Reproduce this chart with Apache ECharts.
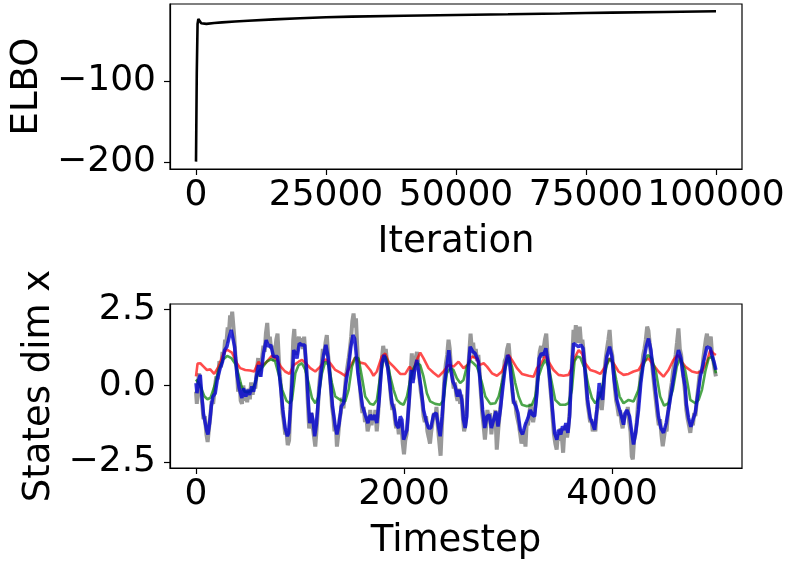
<!DOCTYPE html>
<html>
<head>
<meta charset="utf-8">
<script src="https://cdn.jsdelivr.net/npm/echarts@6/dist/echarts.min.js"></script>
<style>
html,body{margin:0;padding:0;background:#fff;}
#chart{width:788px;height:563px;}
</style>
</head>
<body>
<div id="chart"></div>
<script>
// ---------- DATA ----------
const elboTicks = [0, 25000, 50000, 75000, 100000];
const elboYTicks = [-200, -100];
const stepTicks = [0, 2000, 4000];
const stateYTicks = [-2.5, 0, 2.5];

const elbo = [[0,-199.5],[150,-90],[300,-30],[450,-23.8],[700,-24.5],[1000,-29],[1300,-30.4],[2000,-29.8],[3500,-28.7],[5000,-27.9],[7500,-26.9],[10000,-25.9],[15000,-24.3],[20000,-22.9],[25000,-21.7],[30000,-20.8],[40000,-19.7],[50000,-18.9],[60000,-18.0],[70000,-17.0],[75000,-16.4],[80000,-15.9],[90000,-15.1],[100000,-14.3]];

const grayStates = [[0,-0.2],[8,-0.6],[18,0.1],[30,0.4],[45,-0.2],[60,-0.6],[72,-1.1],[85,-1.0],[100,-1.6],[112,-1.85],[125,-1.4],[138,-1.0],[150,-0.5],[165,-0.6],[180,-0.1],[195,0.3],[210,0.2],[225,0.8],[240,0.6],[255,1.1],[268,1.0],[280,1.5],[292,1.4],[305,1.9],[318,1.8],[328,2.3],[338,2.1],[348,2.42],[358,2.0],[368,1.6],[380,0.9],[393,0.5],[405,-0.2],[418,0.1],[430,-0.5],[442,-0.6],[455,0.0],[468,-0.5],[480,-0.2],[492,-0.55],[505,-0.1],[518,-0.45],[530,0.1],[545,-0.3],[558,0.0],[570,-0.1],[585,0.5],[598,0.9],[610,0.3],[622,0.5],[635,0.9],[648,1.3],[660,1.1],[672,1.7],[685,2.05],[697,1.4],[710,1.6],[722,1.2],[735,1.3],[748,0.8],[760,1.1],[772,1.5],[784,1.7],[796,0.9],[808,0.3],[820,-0.2],[832,-0.9],[845,-1.2],[858,-1.6],[870,-1.5],[882,-1.95],[895,-1.8],[905,-1.0],[915,-0.3],[925,0.5],[935,1.5],[945,1.85],[955,1.2],[965,1.0],[978,1.4],[990,1.6],[1003,1.3],[1015,1.55],[1028,1.2],[1040,1.6],[1052,1.0],[1064,0.3],[1076,-0.6],[1088,-1.4],[1100,-1.2],[1112,-0.9],[1124,-1.4],[1136,-1.7],[1147,-2.0],[1158,-1.5],[1170,-0.9],[1182,-0.1],[1195,0.4],[1208,0.7],[1220,1.2],[1232,1.0],[1245,1.4],[1258,1.65],[1270,1.0],[1282,0.6],[1295,0.0],[1308,-0.7],[1320,-1.0],[1332,-1.5],[1345,-1.3],[1355,-2.0],[1368,-1.6],[1380,-1.1],[1392,-0.9],[1405,-0.4],[1418,-0.75],[1430,-0.2],[1442,0.3],[1455,0.6],[1468,0.9],[1480,1.2],[1492,1.6],[1503,2.1],[1515,2.36],[1527,1.9],[1538,2.2],[1550,1.3],[1562,0.5],[1575,0.0],[1588,-0.5],[1600,-0.9],[1612,-0.7],[1625,-1.2],[1638,-1.0],[1650,-1.5],[1662,-1.3],[1675,-0.8],[1688,-1.3],[1700,-1.0],[1712,-1.2],[1725,-0.8],[1738,-1.5],[1750,-1.0],[1762,-0.3],[1775,0.4],[1788,0.9],[1800,1.3],[1812,1.0],[1825,1.2],[1838,0.7],[1850,0.5],[1862,0.1],[1875,-0.4],[1888,-0.8],[1900,-0.6],[1912,-1.1],[1925,-1.4],[1938,-1.2],[1950,-1.6],[1962,-1.1],[1975,-1.3],[1988,-1.9],[2000,-2.25],[2012,-1.8],[2025,-1.6],[2038,-1.0],[2050,-0.4],[2062,0.3],[2075,1.05],[2088,0.2],[2100,0.6],[2112,0.9],[2125,1.1],[2138,0.7],[2150,0.2],[2162,-0.2],[2175,-0.5],[2188,-1.0],[2200,-1.2],[2212,-1.0],[2225,-1.5],[2238,-1.7],[2250,-1.9],[2262,-1.5],[2275,-1.2],[2288,-0.9],[2300,-1.1],[2312,-0.7],[2325,-1.3],[2338,-1.8],[2352,-2.3],[2365,-1.3],[2378,-0.4],[2390,0.3],[2402,0.7],[2415,1.0],[2428,1.5],[2440,1.2],[2452,0.6],[2465,0.3],[2478,-0.1],[2490,0.1],[2502,-0.3],[2515,-0.5],[2528,-0.1],[2540,-0.6],[2552,-0.3],[2565,-1.0],[2578,-1.5],[2590,-1.3],[2602,-0.8],[2615,0.4],[2628,1.1],[2640,1.7],[2652,1.2],[2665,1.4],[2678,0.9],[2690,1.2],[2702,0.8],[2715,1.0],[2728,0.4],[2740,-0.3],[2752,-0.9],[2765,-1.3],[2778,-1.77],[2790,-1.3],[2802,-0.8],[2815,-1.1],[2828,-0.9],[2840,-1.6],[2852,-1.2],[2865,-1.4],[2878,-0.8],[2892,-2.1],[2905,-1.5],[2918,-1.0],[2930,-0.6],[2942,0.0],[2955,0.3],[2968,0.8],[2980,0.9],[2992,1.2],[3006,1.38],[3018,0.9],[3030,0.4],[3042,-0.2],[3055,-0.6],[3068,-0.5],[3080,-0.9],[3092,-1.1],[3105,-1.3],[3118,-1.6],[3130,-1.9],[3142,-1.7],[3155,-1.5],[3168,-2.0],[3180,-1.2],[3192,-1.3],[3205,-0.9],[3218,-0.6],[3230,-1.0],[3242,-1.2],[3255,-0.9],[3268,-0.5],[3280,0.1],[3292,0.6],[3305,1.1],[3318,1.3],[3330,0.9],[3342,1.2],[3355,1.5],[3368,1.7],[3380,1.0],[3392,0.6],[3405,0.0],[3418,-0.5],[3430,-1.1],[3442,-1.6],[3455,-1.9],[3468,-2.1],[3480,-1.6],[3492,-1.8],[3505,-1.4],[3518,-1.7],[3530,-2.2],[3542,-1.5],[3555,-1.3],[3568,-1.7],[3580,-1.4],[3592,-0.9],[3605,0.1],[3618,0.9],[3630,1.82],[3642,1.5],[3652,1.98],[3665,1.4],[3678,1.6],[3690,1.93],[3702,1.4],[3715,1.5],[3728,1.1],[3740,0.6],[3752,0.0],[3765,-0.6],[3778,-0.9],[3790,-1.2],[3802,-1.1],[3815,-1.5],[3828,-1.3],[3840,-1.5],[3852,-0.9],[3865,-0.6],[3878,-0.2],[3890,-0.5],[3902,-0.8],[3915,-0.3],[3928,0.5],[3940,0.9],[3952,1.2],[3965,1.5],[3977,1.82],[3990,1.2],[4002,1.0],[4015,0.5],[4028,-0.1],[4040,-0.5],[4052,-0.7],[4065,-1.0],[4078,-0.8],[4090,-1.2],[4102,-1.4],[4115,-1.1],[4128,-0.9],[4140,-1.0],[4152,-0.7],[4165,-1.2],[4178,-1.5],[4190,-2.32],[4200,-2.42],[4212,-1.8],[4225,-1.6],[4238,-1.2],[4250,-0.6],[4262,-0.2],[4275,0.3],[4288,0.6],[4300,1.0],[4312,1.2],[4325,1.5],[4338,1.93],[4350,1.8],[4362,1.4],[4375,1.0],[4388,0.6],[4400,0.2],[4412,-0.2],[4425,-0.6],[4438,-1.0],[4450,-1.3],[4462,-1.1],[4475,-1.6],[4488,-1.99],[4500,-1.7],[4512,-1.4],[4525,-1.5],[4538,-0.9],[4550,-0.6],[4562,-0.2],[4575,0.1],[4588,0.5],[4600,0.7],[4612,1.0],[4625,1.4],[4639,1.87],[4652,1.2],[4665,1.0],[4678,0.5],[4690,0.2],[4702,-0.2],[4715,-0.8],[4728,-1.1],[4740,-1.3],[4753,-1.55],[4765,-1.2],[4778,-1.3],[4790,-0.9],[4802,-1.0],[4815,-0.5],[4828,-0.1],[4840,0.3],[4852,0.5],[4865,0.4],[4878,0.9],[4890,1.2],[4902,1.5],[4913,1.7],[4925,1.3],[4938,1.5],[4950,1.6],[4962,1.0],[4975,0.8],[4988,0.5],[4999,0.3]];

const redStates = [[0,0.3],[15,0.72],[41,0.73],[73,0.62],[105,0.51],[137,0.53],[175,0.38],[217,0.62],[265,1.05],[297,1.18],[345,1.08],[393,0.73],[425,0.57],[473,0.51],[521,0.49],[559,0.46],[601,0.78],[633,0.64],[681,0.78],[729,0.97],[771,0.89],[815,0.62],[857,0.46],[899,0.38],[939,0.67],[987,0.78],[1019,0.84],[1051,0.75],[1099,0.57],[1147,0.46],[1195,0.62],[1243,0.86],[1291,0.73],[1339,0.51],[1387,0.42],[1435,0.32],[1483,0.62],[1531,0.92],[1579,0.75],[1627,0.71],[1675,0.51],[1707,0.32],[1739,0.46],[1787,0.95],[1819,1.05],[1852,0.78],[1900,0.62],[1964,0.38],[2012,0.38],[2054,0.62],[2086,0.46],[2124,0.84],[2156,1.08],[2188,0.89],[2236,0.57],[2284,0.42],[2332,0.29],[2380,0.46],[2428,0.67],[2476,0.62],[2524,0.78],[2572,0.57],[2610,0.67],[2652,0.95],[2700,0.89],[2724,0.67],[2766,0.73],[2798,0.62],[2846,0.40],[2894,0.32],[2942,0.46],[2980,0.78],[3006,1.0],[3038,0.84],[3086,0.57],[3134,0.38],[3198,0.32],[3246,0.29],[3278,0.57],[3310,0.67],[3358,0.97],[3390,0.78],[3438,0.51],[3486,0.35],[3534,0.32],[3582,0.35],[3620,0.62],[3647,0.95],[3679,1.16],[3711,1.05],[3743,0.73],[3791,0.51],[3839,0.46],[3887,0.38],[3935,0.62],[3977,0.89],[4015,0.73],[4063,0.46],[4111,0.35],[4159,0.38],[4207,0.46],[4255,0.51],[4303,0.78],[4351,0.89],[4399,0.67],[4447,0.46],[4495,0.29],[4543,0.51],[4591,0.84],[4631,1.0],[4671,0.78],[4705,0.62],[4769,0.46],[4817,0.42],[4865,0.46],[4913,0.78],[4945,1.16],[4977,1.05],[4999,1.0]];

const greenStates = [[0,0.2],[40,0.0],[80,-0.35],[110,-0.45],[140,-0.4],[180,0.0],[215,0.5],[260,0.85],[300,0.97],[340,0.9],[380,0.7],[410,0.35],[440,-0.05],[470,-0.2],[500,-0.22],[540,-0.15],[570,0.1],[600,0.45],[640,0.6],[680,0.78],[720,0.86],[760,0.8],[800,0.3],[830,-0.15],[870,-0.5],[900,-0.58],[923,-0.47],[955,0.4],[987,0.67],[1019,0.73],[1051,0.51],[1083,0.08],[1115,-0.41],[1147,-0.58],[1179,-0.36],[1211,0.4],[1243,0.78],[1275,0.67],[1307,0.08],[1339,-0.36],[1387,-0.47],[1435,-0.52],[1467,-0.14],[1499,0.62],[1531,0.92],[1563,0.89],[1595,0.29],[1627,-0.36],[1675,-0.6],[1707,-0.63],[1739,-0.47],[1771,0.29],[1803,0.84],[1820,0.95],[1836,0.84],[1868,0.29],[1900,-0.14],[1932,-0.47],[1964,-0.58],[1996,-0.63],[2028,-0.36],[2060,0.18],[2092,0.57],[2124,0.73],[2156,0.67],[2188,0.29],[2220,-0.25],[2252,-0.52],[2300,-0.6],[2348,-0.63],[2380,-0.47],[2412,0.4],[2444,0.57],[2476,0.51],[2508,0.24],[2540,0.08],[2572,0.18],[2604,0.62],[2636,0.82],[2668,0.73],[2700,0.62],[2718,0.46],[2750,0.08],[2782,-0.36],[2830,-0.6],[2878,-0.58],[2910,-0.36],[2942,0.08],[2974,0.57],[3006,0.92],[3038,0.62],[3070,0.08],[3102,-0.36],[3134,-0.63],[3182,-0.68],[3230,-0.63],[3262,-0.36],[3294,0.29],[3326,0.62],[3358,0.84],[3390,0.62],[3422,0.08],[3454,-0.47],[3502,-0.63],[3550,-0.63],[3582,-0.58],[3614,-0.14],[3640,0.8],[3665,0.95],[3695,0.92],[3743,0.51],[3775,-0.03],[3807,-0.41],[3839,-0.58],[3887,-0.36],[3919,0.18],[3951,0.67],[3977,0.89],[4009,0.73],[4041,0.18],[4073,-0.36],[4111,-0.58],[4159,-0.47],[4207,-0.52],[4255,-0.14],[4297,0.62],[4342,1.0],[4383,0.89],[4425,0.4],[4463,-0.36],[4501,-0.66],[4543,-0.58],[4585,-0.14],[4623,0.62],[4655,0.89],[4703,0.51],[4730,0.0],[4753,-0.47],[4801,-0.58],[4833,-0.47],[4865,-0.14],[4897,0.46],[4929,0.89],[4961,0.95],[4985,0.62],[4999,0.4]];

const blueStates = [[0,0.08],[9,-0.25],[25,0.18],[41,0.35],[57,-0.36],[73,-0.96],[89,-1.01],[105,-1.5],[115,-1.6],[131,-1.23],[147,-0.68],[163,-0.36],[185,-0.25],[207,0.24],[233,0.57],[255,0.78],[275,1.16],[297,1.27],[320,1.6],[339,1.82],[355,1.76],[371,1.27],[393,0.4],[415,-0.09],[441,-0.41],[457,-0.09],[479,-0.36],[495,-0.14],[515,-0.3],[537,-0.03],[553,-0.2],[575,0.18],[601,0.67],[623,0.29],[649,1.05],[675,1.49],[697,1.27],[719,1.33],[745,0.95],[783,0.95],[809,0.13],[835,-0.8],[857,-1.39],[879,-1.66],[891,-1.55],[907,-0.8],[923,0.08],[939,1.16],[955,1.05],[971,0.89],[993,1.38],[1019,1.33],[1045,1.33],[1061,0.62],[1077,-0.36],[1093,-1.23],[1109,-0.9],[1125,-1.12],[1141,-1.66],[1157,-1.28],[1179,-0.36],[1205,0.51],[1227,1.0],[1249,1.33],[1269,0.95],[1291,0.18],[1313,-0.68],[1339,-1.34],[1355,-1.6],[1377,-1.23],[1397,-0.68],[1419,-0.58],[1441,0.08],[1467,0.62],[1489,1.27],[1509,1.65],[1525,1.54],[1537,1.16],[1557,0.4],[1579,-0.14],[1601,-0.68],[1627,-0.96],[1653,-1.23],[1675,-0.96],[1697,-1.12],[1717,-0.96],[1739,-1.23],[1761,-0.47],[1787,0.73],[1809,1.0],[1825,0.95],[1842,0.62],[1862,0.08],[1884,-0.58],[1906,-0.8],[1926,-1.28],[1948,-1.39],[1964,-1.01],[1980,-1.12],[1996,-1.77],[2012,-1.72],[2028,-1.45],[2050,-0.47],[2070,0.51],[2086,0.08],[2102,0.51],[2124,0.84],[2140,0.46],[2162,-0.03],[2188,-0.8],[2214,-1.17],[2236,-1.39],[2258,-1.39],[2284,-0.96],[2310,-0.9],[2332,-1.34],[2348,-1.66],[2367,-1.01],[2390,0.08],[2412,0.62],[2431,1.16],[2450,0.51],[2470,0.13],[2492,-0.03],[2514,-0.36],[2534,-0.14],[2556,-0.47],[2572,-1.12],[2588,-1.39],[2604,-1.01],[2620,0.62],[2636,1.27],[2662,1.11],[2684,1.05],[2700,0.92],[2715,0.78],[2734,0.08],[2756,-0.8],[2776,-1.39],[2798,-1.01],[2820,-0.96],[2840,-1.39],[2862,-1.12],[2884,-0.85],[2904,-1.34],[2926,-0.8],[2948,-0.14],[2974,0.62],[2996,1.0],[3012,0.89],[3032,0.18],[3054,-0.52],[3076,-0.68],[3096,-0.9],[3118,-1.45],[3140,-1.6],[3166,-1.28],[3192,-1.06],[3214,-0.8],[3236,-0.96],[3256,-1.01],[3278,-0.25],[3300,0.89],[3320,1.05],[3342,1.0],[3364,1.22],[3384,0.78],[3406,0.08],[3428,-0.8],[3448,-1.55],[3470,-1.77],[3486,-1.45],[3508,-1.6],[3524,-1.34],[3544,-1.45],[3556,-1.23],[3576,-1.55],[3592,-1.01],[3614,0.62],[3630,1.38],[3647,1.43],[3679,1.27],[3701,1.33],[3721,1.22],[3743,0.4],[3765,-0.47],[3791,-1.06],[3817,-1.28],[3833,-1.45],[3855,-0.8],[3877,0.08],[3893,-0.25],[3909,-0.47],[3929,0.4],[3951,0.95],[3977,1.27],[3999,0.95],[4021,0.18],[4047,-0.47],[4073,-0.8],[4095,-1.06],[4111,-1.28],[4127,-0.9],[4143,-0.8],[4169,-1.01],[4191,-1.55],[4207,-1.93],[4229,-1.5],[4255,-0.8],[4277,0.08],[4303,0.78],[4329,1.27],[4351,1.54],[4374,1.16],[4399,0.4],[4425,-0.36],[4447,-1.01],[4470,-1.39],[4495,-1.55],[4521,-1.23],[4543,-0.8],[4569,-0.25],[4599,0.4],[4623,0.89],[4639,1.16],[4663,0.89],[4687,0.29],[4703,-0.03],[4715,-0.6],[4735,-1.05],[4758,-1.35],[4780,-1.1],[4800,-0.9],[4825,-0.3],[4849,0.29],[4881,0.78],[4913,1.27],[4945,1.22],[4961,1.0],[4984,0.73],[4999,0.51]];

// ---------- CHART ----------
const FONT = 'DejaVu Sans';
const FS = 36;
const FN = 37;
const minus = v => String(v).replace('-', '\u2212');

function xAx(gridIndex, min, max, ticks, name, gap) {
  return {
    type: 'value', gridIndex, min, max,
    axisLine: { show: true, onZero: false, lineStyle: { color: '#000', width: 1.2 } },
    axisTick: { show: true, length: 6, customValues: ticks, lineStyle: { color: '#000', width: 1.2 } },
    axisLabel: { customValues: ticks, formatter: v => String(v), fontSize: FS, fontFamily: FONT, color: '#000', margin: 9, hideOverlap: false, showMinLabel: true, showMaxLabel: true },
    splitLine: { show: false },
    name, nameLocation: 'middle', nameGap: gap,
    nameTextStyle: { fontSize: FN, fontFamily: FONT, color: '#000' }
  };
}
function yAx(gridIndex, min, max, ticks, fmt, name, gap) {
  return {
    type: 'value', gridIndex, min, max,
    axisLine: { show: true, onZero: false, lineStyle: { color: '#000', width: 1.2 } },
    axisTick: { show: true, length: 6, customValues: ticks, lineStyle: { color: '#000', width: 1.2 } },
    axisLabel: { customValues: ticks, formatter: fmt, fontSize: FS, fontFamily: FONT, color: '#000', margin: 14, showMinLabel: true, showMaxLabel: true },
    splitLine: { show: false },
    name, nameLocation: 'middle', nameGap: gap,
    nameTextStyle: { fontSize: FN, fontFamily: FONT, color: '#000' }
  };
}
function line(data, xi, color, width) {
  return {
    type: 'line', xAxisIndex: xi, yAxisIndex: xi, data,
    showSymbol: false, symbol: 'none', silent: true, animation: false,
    lineStyle: { color, width }, z: 2
  };
}

const chart = echarts.init(document.getElementById('chart'), null, { renderer: 'canvas' });
chart.setOption({
  animation: false,
  backgroundColor: '#fff',
  grid: [
    { left: 170, top: 4, width: 572, height: 165, show: true, borderColor: '#000', borderWidth: 1.2, backgroundColor: 'rgba(0,0,0,0)' },
    { left: 170, top: 304, width: 572, height: 164, show: true, borderColor: '#000', borderWidth: 1.2, backgroundColor: 'rgba(0,0,0,0)' }
  ],
  xAxis: [
    xAx(0, -5000, 105000, elboTicks, 'Iteration', 55),
    xAx(1, -250, 5250, stepTicks, 'Timestep', 55)
  ],
  yAxis: [
    yAx(0, -208.6, -5.3, elboYTicks, v => minus(v), 'ELBO', 123),
    yAx(1, -2.70, 2.67, stateYTicks, v => minus(v.toFixed(1)), 'States dim x', 111)
  ],
  series: [
    line(elbo, 0, '#000', 2.6),
    line(grayStates, 1, 'rgba(128,128,128,0.8)', 4),
    line(redStates, 1, 'rgba(255,0,0,0.7)', 2.6),
    line(greenStates, 1, 'rgba(0,128,0,0.7)', 2.6),
    line(blueStates, 1, 'rgba(0,0,210,0.8)', 3.5)
  ]
});
</script>
</body>
</html>
